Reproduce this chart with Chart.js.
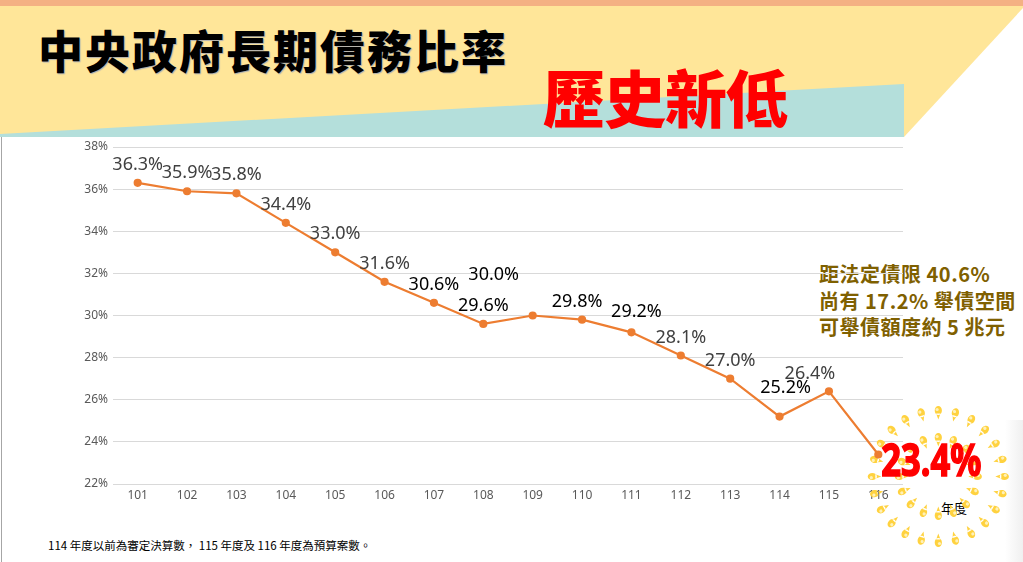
<!DOCTYPE html>
<html>
<head>
<meta charset="utf-8">
<script src="https://cdn.jsdelivr.net/npm/chart.js@4.4.1/dist/chart.umd.min.js"></script>
<style>
  html, body { margin: 0; padding: 0; background: #fff; }
  #page { position: relative; width: 1023px; height: 562px; overflow: hidden; font-family: "Noto Sans CJK TC", "Noto Sans", sans-serif; }
  #bg { position: absolute; left: 0; top: 0; }
  #leftLine { position: absolute; left: 1px; top: 137px; width: 1px; height: 425px; background: #a6a6a6; }
  #shade { position: absolute; right: 0; top: 420px; width: 18px; height: 142px; background: linear-gradient(to right, rgba(255,255,255,0), rgba(225,225,225,0.5)); }
  #title { position: absolute; left: 38px; top: 20px; font-size: 45px; font-weight: 900; letter-spacing: 2px; color: #000; line-height: 60px; text-shadow: 1px 1px 1px #b0b0b0; white-space: nowrap; }
  #subtitle { position: absolute; left: 543px; top: 56px; font-size: 62px; font-weight: 900; letter-spacing: -1px; color: #ff0000; line-height: 80px; white-space: nowrap; }
  #note { position: absolute; left: 819px; top: 261px; font-size: 20px; font-weight: 700; color: #7f6000; line-height: 26.5px; letter-spacing: 0.5px; white-space: nowrap; }
  #unit { position: absolute; left: 941px; top: 498px; font-size: 13px; color: #000; }
  #foot { position: absolute; left: 48px; top: 537px; font-size: 11.5px; color: #000; white-space: nowrap; }
  #chart { position: absolute; left: 0; top: 0; }
</style>
</head>
<body>
<div id="page">
  <svg id="bg" width="1023" height="140">
    <rect x="0" y="0" width="1023" height="6" fill="#f4b183"/>
    <polygon points="0,6 1023,6 1023,8 904,137 0,137" fill="#ffe699"/>
    <polygon points="0,134 904,84 904,137 0,137" fill="#b4dfdb"/>
  </svg>
  <div id="leftLine"></div>
  <div id="shade"></div>
  <div id="title">中央政府長期債務比率</div>
  <div id="subtitle">歷史新低</div>
  <div id="note">距法定債限 40.6%<br>尚有 17.2% 舉債空間<br>可舉債額度約 5 兆元</div>
  <div id="unit">年度</div>
  <div id="foot">114 年度以前為審定決算數， 115 年度及 116 年度為預算案數。</div>
  <canvas id="chart" width="1023" height="562"></canvas>
</div>
<script>
// 年度與長期債務比率(%)
const years = ["101", "102", "103", "104", "105", "106", "107", "108",
               "109", "110", "111", "112", "113", "114", "115", "116"];
const debtRatio = [36.3, 35.9, 35.8, 34.4, 33.0, 31.6, 30.6, 29.6,
                   30.0, 29.8, 29.2, 28.1, 27.0, 25.2, 26.4, 23.4];
const yMin = 22;
const yMax = 38;
const yStep = 2;

// 標籤位移 (相對於資料點), 預設在點的正上方
const labelShift = { 8: [-39, -41], 9: [-5, -18], 10: [5, -20], 13: [6, -29], 14: [-19, -17] };
const darkLabels = [6, 7, 8, 9, 10, 13];

function drawRays(ctx, cx, cy, radius, count, start) {
    for (let k = 0; k < count; k++) {
        const a = start + k * 2 * Math.PI / count;
        ctx.save();
        ctx.translate(cx + Math.cos(a) * radius, cy + Math.sin(a) * radius);
        ctx.rotate(a);
        ctx.beginPath();
        ctx.ellipse(2, 0, 4.6, 3.6, 0, 0, Math.PI * 2);
        ctx.moveTo(-1, -2.2);
        ctx.lineTo(-7, 0);
        ctx.lineTo(-1, 2.2);
        ctx.closePath();
        ctx.fillStyle = "#ffd23f";
        ctx.fill();
        ctx.beginPath();
        ctx.arc(3, -1.2, 1.6, 0, Math.PI * 2);
        ctx.fillStyle = "#fff1b8";
        ctx.fill();
        ctx.restore();
    }
}

const pointLabels = {
    id: "pointLabels",
    beforeDatasetsDraw(chart) {
        const ctx = chart.ctx;
        const last = chart.getDatasetMeta(0).data[debtRatio.length - 1];
        const cx = last.x + 60, cy = last.y + 22;
        drawRays(ctx, cx, cy, 64, 24, -Math.PI / 2);
        drawRays(ctx, cx, cy, 37, 16, -Math.PI / 2);
    },
    afterDatasetsDraw(chart) {
        const ctx = chart.ctx;
        const meta = chart.getDatasetMeta(0);
        ctx.save();
        ctx.textAlign = "center";
        ctx.textBaseline = "middle";
        meta.data.forEach((pt, i) => {
            const txt = debtRatio[i].toFixed(1) + "%";
            if (i === debtRatio.length - 1) {
                // 最新年度:大紅字
                ctx.save();
                ctx.font = 'bold 44px "Noto Sans"';
                const w = ctx.measureText(txt).width;
                ctx.translate(pt.x + 53, pt.y + 9);
                ctx.scale(100 / w, 1);
                ctx.fillStyle = "#ff0000";
                ctx.strokeStyle = "#ff0000";
                ctx.lineWidth = 1.6;
                ctx.fillText(txt, 0, 0);
                ctx.strokeText(txt, 0, 0);
                ctx.restore();
                return;
            }
            const s = labelShift[i] || [0, -18];
            ctx.font = '18px "Noto Sans"';
            ctx.fillStyle = darkLabels.includes(i) ? "#000000" : "#404040";
            ctx.fillText(txt, pt.x + s[0], pt.y + s[1]);
        });
        ctx.restore();
    }
};

new Chart(document.getElementById("chart").getContext("2d"), {
    type: "line",
    data: {
        labels: years,
        datasets: [{
            label: "長期債務比率",
            data: debtRatio,
            borderColor: "#ed7d31",
            backgroundColor: "#ed7d31",
            borderWidth: 2.2,
            pointRadius: 3,
            pointHoverRadius: 3,
            tension: 0
        }]
    },
    options: {
        responsive: false,
        animation: false,
        layout: { padding: { left: 60, right: 120, top: 147, bottom: 48 } },
        plugins: {
            legend: { display: false },
            tooltip: { enabled: false }
        },
        scales: {
            x: {
                offset: true,
                grid: { display: false, drawTicks: false },
                border: { display: false },
                ticks: { color: "#595959", font: { size: 12, family: "Noto Sans" }, padding: 4 },
                afterFit: s => { s.height = 30; }
            },
            y: {
                min: yMin,
                max: yMax,
                grid: { color: "#d9d9d9", drawTicks: false },
                border: { display: false },
                ticks: {
                    stepSize: yStep,
                    color: "#595959",
                    font: { size: 12, family: "Noto Sans" },
                    padding: 5,
                    callback: v => v + "%"
                },
                afterFit: s => { s.width = 53; }
            }
        }
    },
    plugins: [pointLabels]
});
</script>
</body>
</html>
